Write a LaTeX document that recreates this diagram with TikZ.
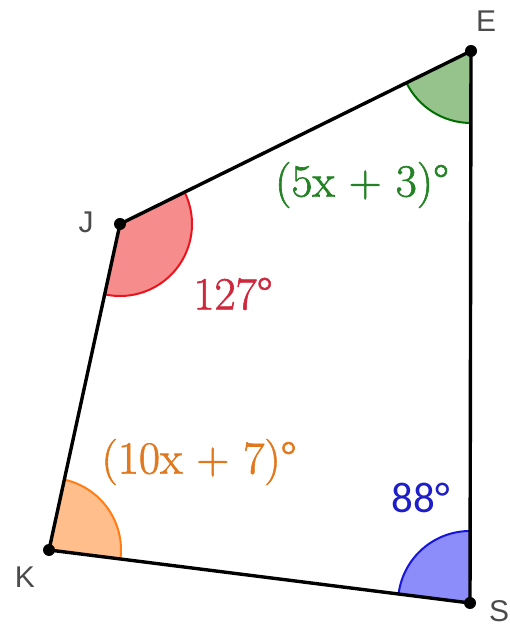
\documentclass[tikz,border=0pt]{standalone}
\usepackage{fontspec}
\usetikzlibrary{angles}
\newfontfamily\vlabfont{Liberation Sans}
\newfontfamily\carlfont{Carlito}
\newfontfamily\angfont[FakeBold=1.3]{Latin Modern Roman}
\definecolor{gfill}{RGB}{150,195,140}
\definecolor{gline}{RGB}{0,110,0}
\definecolor{gtext}{RGB}{35,130,35}
\definecolor{rfill}{RGB}{246,140,140}
\definecolor{rline}{RGB}{235,20,30}
\definecolor{rtext}{RGB}{205,40,60}
\definecolor{ofill}{RGB}{255,190,140}
\definecolor{oline}{RGB}{255,125,20}
\definecolor{otext}{RGB}{225,120,30}
\definecolor{bfill}{RGB}{140,140,250}
\definecolor{bline}{RGB}{20,20,220}
\definecolor{btext}{RGB}{30,30,200}
\definecolor{vtext}{RGB}{75,75,75}
\tikzset{
  edge/.style={line width=3.4pt, line cap=round},
  vdot/.style={circle, fill=black, inner sep=0pt, minimum size=12pt},
  vlab/.style={text=vtext, font=\vlabfont\fontsize{30}{34}\selectfont, inner sep=0pt},
  alab/.style={font=\angfont\fontsize{46}{52}\selectfont, inner sep=0pt},
  angarc/.style={angle radius=72pt, line width=2pt},
}
\begin{document}
\begin{tikzpicture}[x=1pt,y=1pt]
\useasboundingbox (0,0) rectangle (509,628);
\coordinate (E) at (471,577);
\coordinate (J) at (120,404);
\coordinate (K) at (49,78);
\coordinate (S) at (470,25);
% angle sectors
\pic[angarc, draw=gline, fill=gfill] {angle = J--E--S};
\pic[angarc, draw=rline, fill=rfill] {angle = K--J--E};
\pic[angarc, draw=oline, fill=ofill] {angle = S--K--J};
\pic[angarc, draw=bline, fill=bfill] {angle = E--S--K};
% edges
\draw[edge] (E) -- (J);
\draw[edge] (J) -- (K);
\draw[edge] (K) -- (S);
\draw[edge] (S) -- (E);
% vertices
\node[vdot] (dE) at (E) {};
\node[vdot] (dJ) at (J) {};
\node[vdot] (dK) at (K) {};
\node[vdot] (dS) at (S) {};
% vertex labels
\node[vlab] (lE) at (486,607) {E};
\node[vlab] (lJ) at (86,406) {J};
\node[vlab] (lK) at (25,51) {K};
\node[vlab] (lS) at (499,17) {S};
% angle labels
\node[alab, text=gtext] (aE) at (362,443) {(5x + 3)°};
\node[alab, text=rtext] (aJ) at (233,334) {127°};
\node[alab, text=otext] (aK) at (199,166) {(10x + 7)°};
\node[alab, text=btext, font=\carlfont\fontsize{43}{48}\selectfont] (aS) at (421,130) {88°};
\end{tikzpicture}
\end{document}
